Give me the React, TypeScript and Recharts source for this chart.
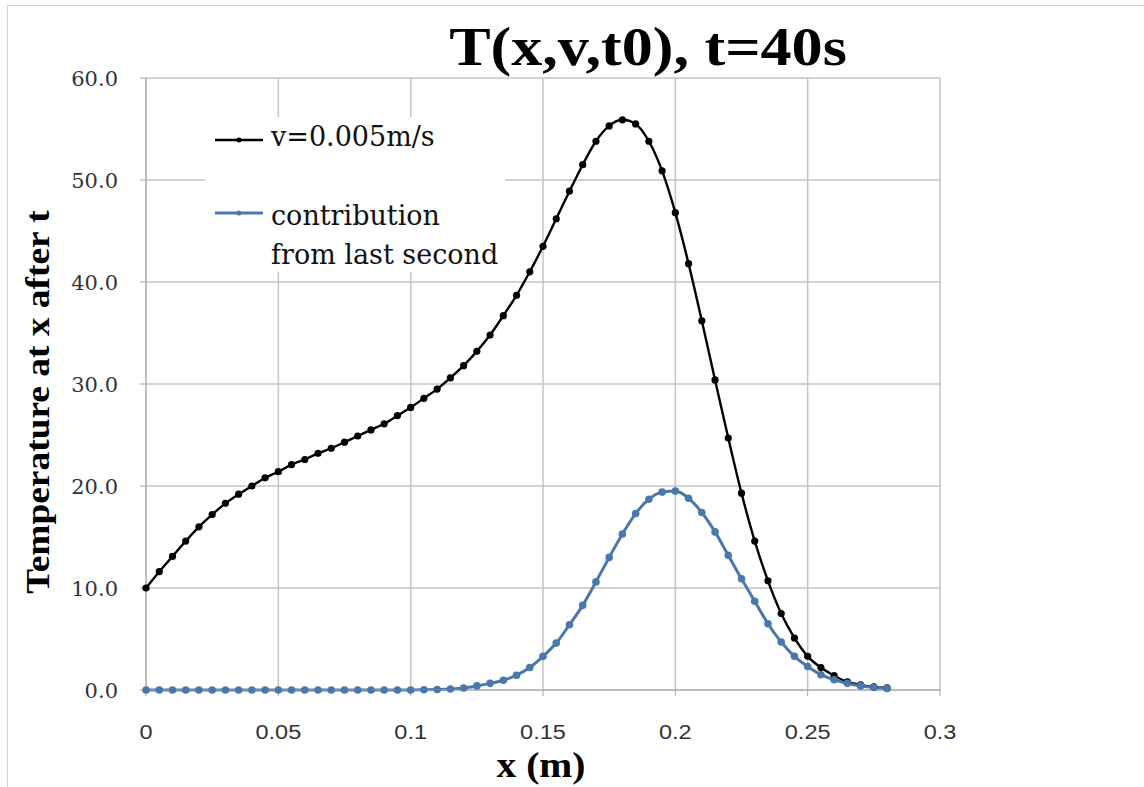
import React from 'react';
import {
  LineChart,
  Line,
  XAxis,
  YAxis,
  CartesianGrid
} from 'recharts';

// x positions along the rod (m)
const xValues = [
  0, 0.005, 0.01, 0.015, 0.02, 0.025, 0.03, 0.035, 0.04, 0.045,
  0.05, 0.055, 0.06, 0.065, 0.07, 0.075, 0.08, 0.085, 0.09, 0.095,
  0.1, 0.105, 0.11, 0.115, 0.12, 0.125, 0.13, 0.135, 0.14, 0.145,
  0.15, 0.155, 0.16, 0.165, 0.17, 0.175, 0.18, 0.185, 0.19, 0.195,
  0.2, 0.205, 0.21, 0.215, 0.22, 0.225, 0.23, 0.235, 0.24, 0.245,
  0.25, 0.255, 0.26, 0.265, 0.27, 0.275, 0.28
];

// temperature for v=0.005m/s
const totalTemp = [
  10.0, 11.6, 13.1, 14.6, 16.0, 17.2, 18.3, 19.2, 20.0, 20.8,
  21.4, 22.1, 22.6, 23.2, 23.7, 24.3, 24.9, 25.5, 26.1, 26.9,
  27.7, 28.6, 29.5, 30.6, 31.8, 33.2, 34.8, 36.7, 38.7, 41.0,
  43.5, 46.2, 48.9, 51.5, 53.8, 55.3, 55.9, 55.5, 53.8, 50.9,
  46.8, 41.8, 36.2, 30.4, 24.7, 19.3, 14.6, 10.7, 7.5, 5.1,
  3.3, 2.2, 1.4, 0.8, 0.5, 0.3, 0.2
];

// contribution from last second
const lastSecond = [
  0, 0, 0, 0, 0, 0, 0, 0, 0, 0,
  0, 0, 0, 0, 0, 0, 0, 0, 0, 0,
  0, 0.02, 0.05, 0.1, 0.2, 0.4, 0.65, 0.95, 1.45, 2.2,
  3.3, 4.6, 6.4, 8.3, 10.6, 13.0, 15.3, 17.3, 18.7, 19.4,
  19.5, 18.8, 17.4, 15.5, 13.2, 10.9, 8.7, 6.5, 4.7, 3.3,
  2.3, 1.5, 1.0, 0.65, 0.4, 0.25, 0.15
];

const xTicks = [0, 0.05, 0.1, 0.15, 0.2, 0.25, 0.3];
const yTicks = [0, 10, 20, 30, 40, 50, 60];

const BLUE = '#4a78ad';
const GRID = '#c4c4c4';
const SERIF = '"DejaVu Serif", "Liberation Serif", serif';
const BOLD_SERIF = '"Liberation Serif", serif';

const chartData = xValues.map((x, i) => ({
  x,
  total: totalTemp[i],
  last: lastSecond[i]
}));

// tick labels, slightly widened like the original picture
const XTick = ({ x, y, payload }: any) => (
  <text
    transform={`translate(${x},${y + 41}) scale(1.12,1)`}
    textAnchor="middle"
    fill="#333"
    fontSize={21}
    fontFamily='"Liberation Sans", sans-serif'
  >
    {String(payload.value)}
  </text>
);

const YTick = ({ x, y, payload }: any) => (
  <text
    transform={`translate(${x - 20},${y + 8})`}
    textAnchor="end"
    fill="#333"
    fontSize={21}
    fontFamily={SERIF}
  >
    {payload.value.toFixed(1)}
  </text>
);

const LegendBox = () => (
  <div
    style={{
      position: 'absolute',
      left: 205,
      top: 117,
      width: 300,
      height: 155,
      background: '#fff',
      fontFamily: SERIF,
      fontSize: 27,
      color: '#111'
    }}
  >
    <svg width={60} height={150} style={{ position: 'absolute', left: 8, top: 0 }}>
      <line x1={2} y1={23} x2={50} y2={23} stroke="#000" strokeWidth={2.4} />
      <circle cx={26} cy={23} r={2.5} fill="#000" />
      <line x1={2} y1={96} x2={50} y2={96} stroke={BLUE} strokeWidth={3} />
      <circle cx={26} cy={96} r={2.5} fill={BLUE} />
    </svg>
    <div style={{ position: 'absolute', left: 66, top: 4, whiteSpace: 'nowrap' }}>v=0.005m/s</div>
    <div style={{ position: 'absolute', left: 66, top: 79, lineHeight: '39px', whiteSpace: 'nowrap' }}>
      contribution
      <br />
      from last second
    </div>
  </div>
);

export default function App() {
  return (
    <div style={{ position: 'absolute', left: 0, top: 0, width: 1144, height: 787, background: '#fff', overflow: 'hidden' }}>
      <div
        style={{
          position: 'absolute',
          left: 7,
          top: 5,
          width: 1140,
          height: 790,
          borderLeft: '1px solid #d4d4d4',
          borderTop: '1px solid #d4d4d4'
        }}
      />
      <div
        style={{
          position: 'absolute',
          left: 648,
          top: 47,
          transform: 'translate(-50%, -50%) scaleX(1.15)',
          fontFamily: BOLD_SERIF,
          fontWeight: 'bold',
          fontSize: 54,
          color: '#000',
          whiteSpace: 'nowrap'
        }}
      >
        T(x,v,t0), t=40s
      </div>
      <div
        style={{
          position: 'absolute',
          left: 38,
          top: 402,
          transform: 'translate(-50%, -50%) rotate(-90deg) scaleX(1.1)',
          fontFamily: BOLD_SERIF,
          fontWeight: 'bold',
          fontSize: 34,
          color: '#000',
          whiteSpace: 'nowrap'
        }}
      >
        Temperature at x after t
      </div>
      <div
        style={{
          position: 'absolute',
          left: 541,
          top: 765,
          transform: 'translate(-50%, -50%) scaleX(1.1)',
          fontFamily: BOLD_SERIF,
          fontWeight: 'bold',
          fontSize: 36,
          color: '#000',
          whiteSpace: 'nowrap'
        }}
      >
        x (m)
      </div>
      <div style={{ position: 'absolute', left: 0, top: 0 }}>
        <LineChart
          width={1144}
          height={787}
          data={chartData}
          margin={{ top: 78, right: 204, left: 0, bottom: 0 }}
        >
          <CartesianGrid stroke={GRID} strokeWidth={1.5} />
          <XAxis
            dataKey="x"
            type="number"
            domain={[0, 0.3]}
            ticks={xTicks}
            height={97}
            tickSize={6}
            stroke="#a6a6a6"
            tick={<XTick />}
          />
          <YAxis
            type="number"
            domain={[0, 60]}
            ticks={yTicks}
            width={146}
            tickSize={6}
            stroke="#a6a6a6"
            tick={<YTick />}
          />
          <Line
            type="monotone"
            dataKey="total"
            stroke="#000"
            strokeWidth={2.4}
            dot={{ r: 3.6, fill: '#000', stroke: '#000', strokeWidth: 0 }}
            isAnimationActive={false}
          />
          <Line
            type="monotone"
            dataKey="last"
            stroke={BLUE}
            strokeWidth={3}
            dot={{ r: 3.8, fill: BLUE, stroke: BLUE, strokeWidth: 0 }}
            isAnimationActive={false}
          />
        </LineChart>
      </div>
      <LegendBox />
    </div>
  );
}
